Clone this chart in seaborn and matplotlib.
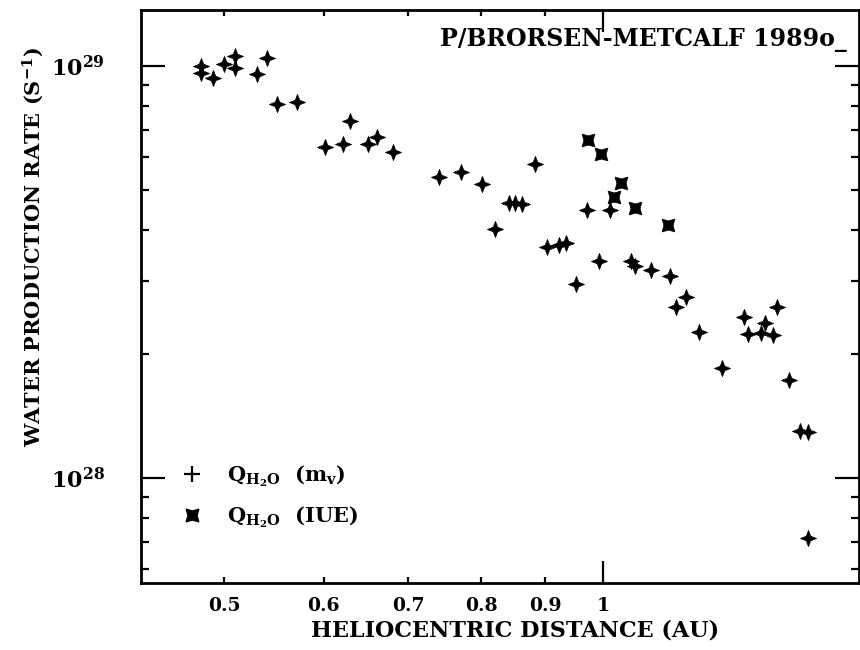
import matplotlib
matplotlib.use("Agg")
import matplotlib.pyplot as plt
from matplotlib.path import Path
from matplotlib.lines import Line2D
from matplotlib.ticker import FixedLocator, FixedFormatter, NullFormatter
import pandas as pd
import seaborn as sns

# Heliocentric distance (AU) and water production rate (s^-1)
r_mv = [0.479, 0.479, 0.490, 0.500, 0.510, 0.510, 0.531, 0.541, 0.551, 0.571,
        0.630, 0.601, 0.622, 0.651, 0.662, 0.681, 0.741, 0.771, 0.802, 0.883,
        0.842, 0.851, 0.863, 0.821, 0.902, 0.923, 0.934, 0.952, 0.993, 0.972,
        1.012, 1.052, 1.060, 1.092, 1.130, 1.163, 1.142, 1.192, 1.242, 1.294,
        1.345, 1.375, 1.303, 1.335, 1.364, 1.405, 1.434, 1.456, 1.456]
q_mv = [1.00e29, 0.960e29, 0.937e29, 1.011e29, 1.057e29, 0.987e29, 0.956e29, 1.044e29, 0.809e29, 0.819e29,
        0.735e29, 0.635e29, 0.647e29, 0.647e29, 0.671e29, 0.619e29, 0.538e29, 0.553e29, 0.517e29, 0.580e29,
        0.464e29, 0.464e29, 0.462e29, 0.402e29, 0.363e29, 0.368e29, 0.371e29, 0.295e29, 0.337e29, 0.447e29,
        0.447e29, 0.337e29, 0.327e29, 0.320e29, 0.309e29, 0.275e29, 0.260e29, 0.2265e29, 0.1846e29, 0.2455e29,
        0.238e29, 0.2596e29, 0.2233e29, 0.2246e29, 0.2225e29, 0.173e29, 0.1302e29, 0.129e29, 0.0714e29]

r_iue = [0.973, 0.997, 1.033, 1.021, 1.061, 1.127]
q_iue = [0.661e29, 0.610e29, 0.519e29, 0.480e29, 0.452e29, 0.411e29]

x_minor_ticks = [0.5, 0.6, 0.7, 0.8, 0.9]
x_minor_labels = ["0.5", "0.6", "0.7", "0.8", "0.9"]
x_major_ticks = [1.0]
x_major_labels = ["1"]
y_major_ticks = [1e28, 1e29]
y_major_labels = [r"$\mathbf{10^{28}}$", r"$\mathbf{10^{29}}$"]
y_minor_ticks = [6e27, 7e27, 8e27, 9e27, 2e28, 3e28, 4e28, 5e28, 6e28, 7e28, 8e28, 9e28]

title_text = "P/BRORSEN-METCALF 1989o_"
x_label = "HELIOCENTRIC DISTANCE (AU)"
y_label = r"WATER PRODUCTION RATE (S$^{\mathbf{-1}}$)"
legend_labels = [r"$\mathbf{Q_{H_2O}}$  (m$_\mathbf{v}$)", r"$\mathbf{Q_{H_2O}}$  (IUE)"]

sns.set_theme(style="ticks")
plt.rcParams["font.family"] = ["DejaVu Serif"]
plt.rcParams["font.weight"] = "bold"
plt.rcParams["mathtext.fontset"] = "dejavuserif"
plt.rcParams["axes.linewidth"] = 2.0
for key in ("text.color", "axes.labelcolor", "xtick.color", "ytick.color",
            "axes.edgecolor"):
    plt.rcParams[key] = "black"

# Four-pointed star for the photometric points
star = Path([(0, 1), (0.28, 0.28), (1, 0), (0.28, -0.28), (0, -1),
             (-0.28, -0.28), (-1, 0), (-0.28, 0.28), (0, 1)], closed=True)
# Concave-sided square for the IUE points
bowtie = Path([(-1, 1), (0, 0.72), (1, 1), (0.72, 0), (1, -1), (0, -0.72),
               (-1, -1), (-0.72, 0), (-1, 1)], closed=True)

fig = plt.figure(figsize=(8.6, 6.5), dpi=100)
ax = fig.add_axes([141 / 860, 1 - 583 / 650, 718 / 860, 573 / 650])

df_mv = pd.DataFrame({"r": r_mv, "q": q_mv})
df_iue = pd.DataFrame({"r": r_iue, "q": q_iue})
sns.scatterplot(data=df_mv, x="r", y="q", marker=star, s=135, color="black",
                edgecolor="black", linewidth=0.5, ax=ax, legend=False)
sns.scatterplot(data=df_iue, x="r", y="q", marker=bowtie, s=85, color="black",
                edgecolor="black", linewidth=0.5, ax=ax, legend=False)

ax.set_xscale("log")
ax.set_yscale("log")
ax.set_xlim(0.4296, 1.597)
ax.set_ylim(5.56e27, 1.368e29)

ax.xaxis.set_major_locator(FixedLocator(x_major_ticks))
ax.xaxis.set_major_formatter(FixedFormatter(x_major_labels))
ax.xaxis.set_minor_locator(FixedLocator(x_minor_ticks))
ax.xaxis.set_minor_formatter(FixedFormatter(x_minor_labels))
ax.yaxis.set_major_locator(FixedLocator(y_major_ticks))
ax.yaxis.set_major_formatter(FixedFormatter(y_major_labels))
ax.yaxis.set_minor_locator(FixedLocator(y_minor_ticks))
ax.yaxis.set_minor_formatter(NullFormatter())

ax.tick_params(which="both", direction="in", top=True, right=True, width=1.6,
               colors="black", labelsize=13.5)
ax.tick_params(axis="x", which="major", length=16, pad=10)
ax.tick_params(axis="x", which="minor", length=4, pad=10, labelsize=13.5)
ax.tick_params(axis="y", which="major", length=17, pad=26, labelsize=16)
ax.tick_params(axis="y", which="minor", length=6)
for lab in ax.get_xticklabels(which="both"):
    lab.set_fontweight("bold")

ax.set_xlabel(x_label, fontsize=16, fontweight="bold", color="black")
ax.set_ylabel(y_label, fontsize=15, fontweight="bold", color="black")
ax.xaxis.set_label_coords((515 - 141) / 718, -0.064)
ax.yaxis.set_label_coords((46 - 141) / 718, (583 - 247) / 573)

ax.text((440 - 141) / 718, (583 - 40) / 573, title_text, transform=ax.transAxes,
        ha="left", va="center", fontsize=17, fontweight="bold", color="black")

handles = [Line2D([], [], linestyle="none", marker="+", markersize=11,
                  markeredgewidth=1.6, color="black"),
           Line2D([], [], linestyle="none", marker=bowtie, markersize=9,
                  color="black")]
leg = ax.legend(handles, legend_labels, loc="lower left", frameon=False,
                bbox_to_anchor=(0.03, 0.06), fontsize=15, handletextpad=1.2,
                labelspacing=0.75, handlelength=1.0)
for t in leg.get_texts():
    t.set_color("black")

fig.savefig("out.png", dpi=100, facecolor="white")
